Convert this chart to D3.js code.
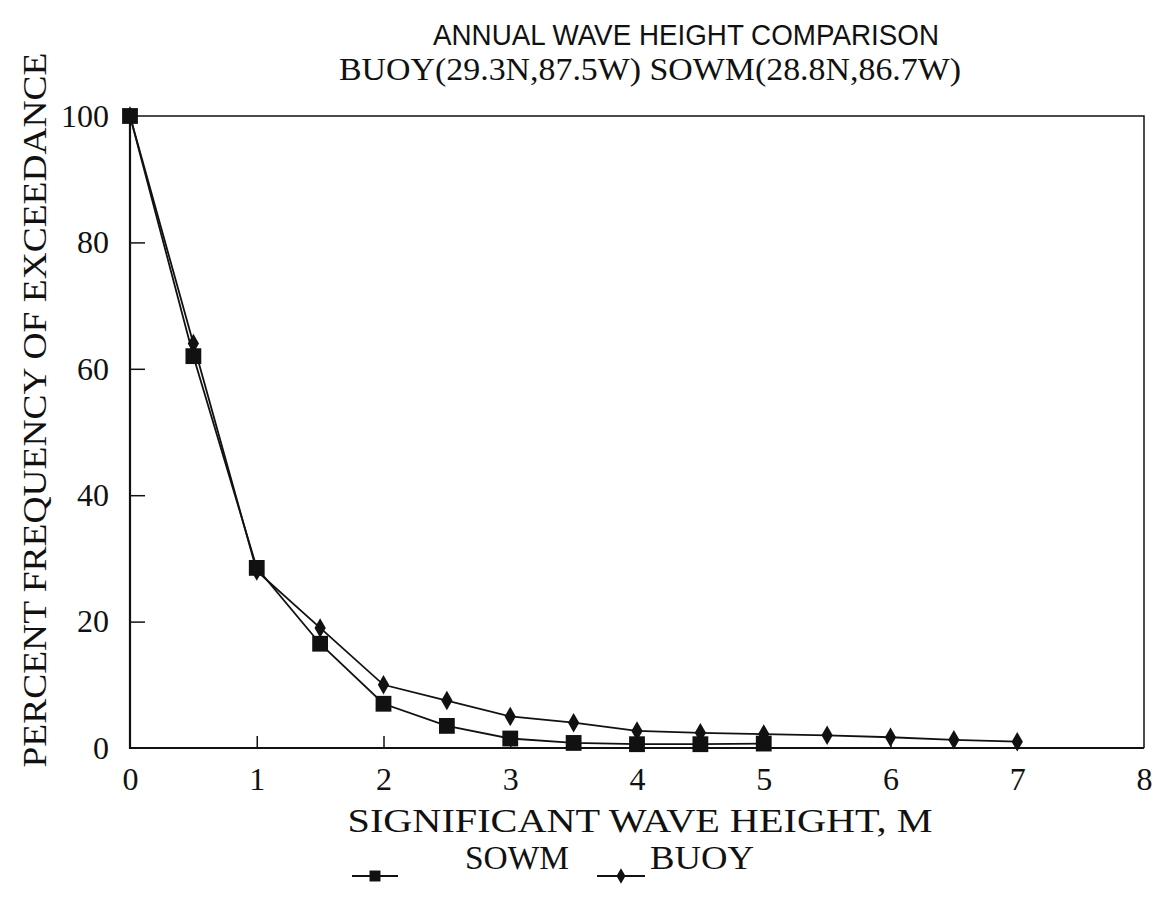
<!DOCTYPE html>
<html>
<head>
<meta charset="utf-8">
<script src="https://cdn.jsdelivr.net/npm/d3@7"></script>
<style>
  body { margin: 0; background: #fff; }
  text { fill: #111; }
</style>
</head>
<body>
<div id="container"></div>
<script>
/* CONSTANTS AND GLOBALS */
const width = 1163;
const height = 901;
const margin = { top: 116, right: 19, bottom: 153, left: 130 };

// DATA
const waveHeight = [0, 0.5, 1, 1.5, 2, 2.5, 3, 3.5, 4, 4.5, 5, 5.5, 6, 6.5, 7];
const sowm = [100, 62, 28.5, 16.5, 7, 3.5, 1.5, 0.8, 0.6, 0.6, 0.7];
const buoy = [100, 64, 28, 19, 10, 7.5, 5, 4, 2.7, 2.4, 2.2, 2, 1.7, 1.3, 1];
const xTicks = [0, 1, 2, 3, 4, 5, 6, 7, 8];
const yTicks = [0, 20, 40, 60, 80, 100];

const serif = "'Liberation Serif', 'DejaVu Serif', serif";
const sans = "'Liberation Sans', Arial, sans-serif";

// CREATE SVG
const svg = d3.select("#container")
  .append("svg")
  .attr("width", width)
  .attr("height", height)
  .style("background-color", "white");

/* SCALES */
const xScale = d3.scaleLinear()
  .domain([0, 8])
  .range([margin.left, width - margin.right]);

const yScale = d3.scaleLinear()
  .domain([0, 100])
  .range([height - margin.bottom, margin.top]);

// AXES (ticks point inward)
const xAxis = d3.axisBottom(xScale).tickValues(xTicks).tickSizeInner(-12).tickSizeOuter(0).tickPadding(19);
const yAxis = d3.axisLeft(yScale).tickValues(yTicks).tickSizeInner(-15).tickSizeOuter(0).tickPadding(21);

const gx = svg.append("g")
  .attr("transform", `translate(0,${height - margin.bottom})`)
  .call(xAxis);
gx.select(".domain").remove();
gx.selectAll(".tick line").attr("stroke", "#111").attr("stroke-width", 1.5)
  .filter(d => d === 0 || d === 8).remove();
gx.selectAll(".tick text").style("font-family", serif).style("font-size", "32px").attr("fill", "#111");

const gy = svg.append("g")
  .attr("transform", `translate(${margin.left},0)`)
  .call(yAxis);
gy.select(".domain").remove();
gy.selectAll(".tick line").attr("stroke", "#111").attr("stroke-width", 1.5)
  .filter(d => d === 0 || d === 100).remove();
gy.selectAll(".tick text").style("font-family", serif).style("font-size", "32px").attr("fill", "#111");

// PLOT FRAME
const x0 = xScale(0), x1 = xScale(8), y0 = yScale(0), y1 = yScale(100);
svg.append("path")
  .attr("d", `M${x0},${y1}L${x1},${y1}L${x1},${y0}`)
  .attr("fill", "none").attr("stroke", "#111").attr("stroke-width", 1.5);
svg.append("path")
  .attr("d", `M${x0},${y1}L${x0},${y0}L${x1},${y0}`)
  .attr("fill", "none").attr("stroke", "#111").attr("stroke-width", 2.2);

// LINES
const lineGen = d3.line()
  .x(d => xScale(d[0]))
  .y(d => yScale(d[1]));

const sowmPts = sowm.map((v, i) => [waveHeight[i], v]);
const buoyPts = buoy.map((v, i) => [waveHeight[i], v]);

svg.append("path")
  .datum(buoyPts)
  .attr("d", lineGen)
  .attr("fill", "none").attr("stroke", "#111").attr("stroke-width", 1.8);

svg.append("path")
  .datum(sowmPts)
  .attr("d", lineGen)
  .attr("fill", "none").attr("stroke", "#111").attr("stroke-width", 1.8);

// MARKERS
const squareSym = d3.symbol().type(d3.symbolSquare).size(250);
const diamondSym = d3.symbol().type(d3.symbolDiamond).size(110);

svg.selectAll("path.buoy")
  .data(buoyPts)
  .join("path")
  .attr("class", "buoy")
  .attr("d", diamondSym)
  .attr("transform", d => `translate(${xScale(d[0])},${yScale(d[1])})`)
  .attr("fill", "#111");

svg.selectAll("path.sowm")
  .data(sowmPts)
  .join("path")
  .attr("class", "sowm")
  .attr("d", squareSym)
  .attr("transform", d => `translate(${xScale(d[0])},${yScale(d[1])})`)
  .attr("fill", "#111");

// TITLE
svg.append("text")
  .attr("x", 686)
  .attr("y", 45)
  .attr("text-anchor", "middle")
  .attr("textLength", 506)
  .attr("lengthAdjust", "spacingAndGlyphs")
  .style("font-family", sans)
  .style("font-size", "29px")
  .text("ANNUAL WAVE HEIGHT COMPARISON");

svg.append("text")
  .attr("x", 650)
  .attr("y", 80)
  .attr("text-anchor", "middle")
  .attr("textLength", 622)
  .attr("lengthAdjust", "spacingAndGlyphs")
  .style("font-family", serif)
  .style("font-size", "32px")
  .text("BUOY(29.3N,87.5W) SOWM(28.8N,86.7W)");

// AXIS LABELS
svg.append("text")
  .attr("x", 640)
  .attr("y", 832)
  .attr("text-anchor", "middle")
  .attr("textLength", 585)
  .attr("lengthAdjust", "spacingAndGlyphs")
  .style("font-family", serif)
  .style("font-size", "34px")
  .text("SIGNIFICANT WAVE HEIGHT, M");

svg.append("text")
  .attr("transform", "rotate(-90)")
  .attr("x", -410)
  .attr("y", 46)
  .attr("text-anchor", "middle")
  .attr("textLength", 715)
  .attr("lengthAdjust", "spacingAndGlyphs")
  .style("font-family", serif)
  .style("font-size", "34px")
  .text("PERCENT FREQUENCY OF EXCEEDANCE");

// LEGEND
const legendNames = ["SOWM", "BUOY"];
const legendLine = [[352, 398], [597, 645]];
const legendText = [465, 650];
const legendSym = [
  d3.symbol().type(d3.symbolSquare).size(120),
  d3.symbol().type(d3.symbolDiamond).size(70)
];
const legendY = 876;

legendNames.forEach((name, i) => {
  const g = svg.append("g");
  const [lx0, lx1] = legendLine[i];
  g.append("line")
    .attr("x1", lx0).attr("x2", lx1)
    .attr("y1", legendY).attr("y2", legendY)
    .attr("stroke", "#111").attr("stroke-width", 1.8);
  g.append("path")
    .attr("d", legendSym[i]())
    .attr("transform", `translate(${(lx0 + lx1) / 2},${legendY})`)
    .attr("fill", "#111");
  g.append("text")
    .attr("x", legendText[i])
    .attr("y", 869)
    .attr("textLength", 104)
    .attr("lengthAdjust", "spacingAndGlyphs")
    .style("font-family", serif)
    .style("font-size", "33px")
    .text(name);
});
</script>
</body>
</html>
